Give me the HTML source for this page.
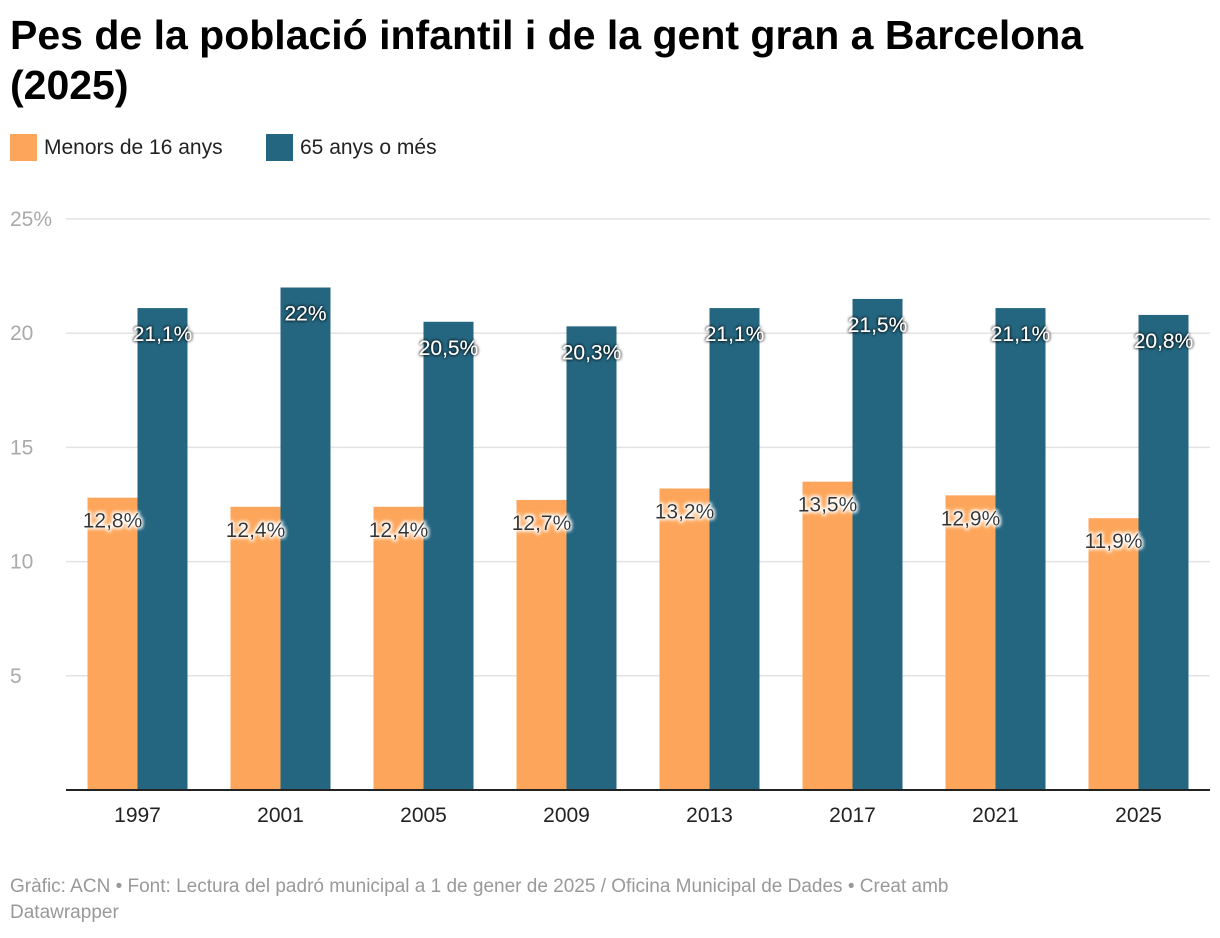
<!DOCTYPE html>
<html><head><meta charset="utf-8"><style>
body{margin:0;background:#fff;font-family:"Liberation Sans",sans-serif;}
#wrap{position:relative;width:1220px;height:938px;overflow:hidden}
h1{position:absolute;left:10px;top:10px;margin:0;font-size:41px;line-height:50px;font-weight:bold;color:#000;width:1120px}
.leg{position:absolute;top:134px;font-size:21px;color:#222;display:flex;align-items:center}
.sw{width:27px;height:27px;margin-right:7px}
.foot{position:absolute;left:10px;top:874px;font-size:19px;line-height:26px;color:#999;width:1000px}
</style></head><body><div id="wrap">
<h1>Pes de la població infantil i de la gent gran a Barcelona (2025)</h1>
<div class="leg" style="left:10px"><div class="sw" style="background:#fda65b"></div>Menors de 16 anys</div>
<div class="leg" style="left:266px"><div class="sw" style="background:#24657f"></div>65 anys o més</div>
<svg id="svg" width="1220" height="938" style="position:absolute;left:0;top:0">
<defs><filter id="sh" x="-20%" y="-40%" width="140%" height="180%"><feGaussianBlur in="SourceAlpha" stdDeviation="1.5"/><feComponentTransfer><feFuncA type="linear" slope="1.5"/></feComponentTransfer><feMerge><feMergeNode/><feMergeNode in="SourceGraphic"/></feMerge></filter>
<filter id="wh" x="-20%" y="-40%" width="140%" height="180%"><feMorphology in="SourceAlpha" operator="dilate" radius="1.5" result="d"/><feGaussianBlur in="d" stdDeviation="1.5"/><feComponentTransfer><feFuncR type="linear" slope="0" intercept="1"/><feFuncG type="linear" slope="0" intercept="1"/><feFuncB type="linear" slope="0" intercept="1"/></feComponentTransfer><feMerge><feMergeNode/><feMergeNode in="SourceGraphic"/></feMerge></filter></defs>
</svg>
<div class="foot">Gràfic: ACN • Font: Lectura del padró municipal a 1 de gener de 2025 / Oficina Municipal de Dades • Creat amb Datawrapper</div>
</div>
<script>
const years=["1997","2001","2005","2009","2013","2017","2021","2025"];
const menors=[12.8,12.4,12.4,12.7,13.2,13.5,12.9,11.9];
const grans=[21.1,22,20.5,20.3,21.1,21.5,21.1,20.8];
const labelsMenors=["12,8%","12,4%","12,4%","12,7%","13,2%","13,5%","12,9%","11,9%"];
const labelsGrans=["21,1%","22%","20,5%","20,3%","21,1%","21,5%","21,1%","20,8%"];
const ticks=[5,10,15,20,25];
const svg=document.getElementById('svg');const NS="http://www.w3.org/2000/svg";
const y=v=>790-v*(571/25);const x0=66,gw=143;
function mk(t,a){const e=document.createElementNS(NS,t);for(const k in a)e.setAttribute(k,a[k]);svg.appendChild(e);return e;}
ticks.forEach(t=>{const l=mk('line',{x1:66,x2:1210,y1:y(t),y2:y(t),stroke:'#e3e3e3','stroke-width':1.5});


const tx=mk('text',{x:10,y:y(t)+7,'font-size':21,fill:'#aaa'});tx.textContent=t===25?'25%':t;

});
years.forEach((yr,i)=>{const c=x0+gw*(i+0.5);
const a=mk('rect',{x:c-50,y:y(menors[i]),width:50,height:790-y(menors[i]),fill:'#fda65b'});


const b=mk('rect',{x:c,y:y(grans[i]),width:50,height:790-y(grans[i]),fill:'#24657f'});


const t1=mk('text',{x:c-25,y:y(menors[i])+30,'font-size':21,fill:'#333','text-anchor':'middle',filter:'url(#wh)'});t1.textContent=labelsMenors[i];


const t2=mk('text',{x:c+25,y:y(grans[i])+33,'font-size':21,fill:'#fff','text-anchor':'middle',filter:'url(#sh)'});t2.textContent=labelsGrans[i];


const xl=mk('text',{x:c,y:822,'font-size':21,fill:'#222','text-anchor':'middle'});xl.textContent=yr;

});
const ax=mk('line',{x1:66,x2:1210,y1:790,y2:790,stroke:'#222','stroke-width':2});


</script></body></html>
